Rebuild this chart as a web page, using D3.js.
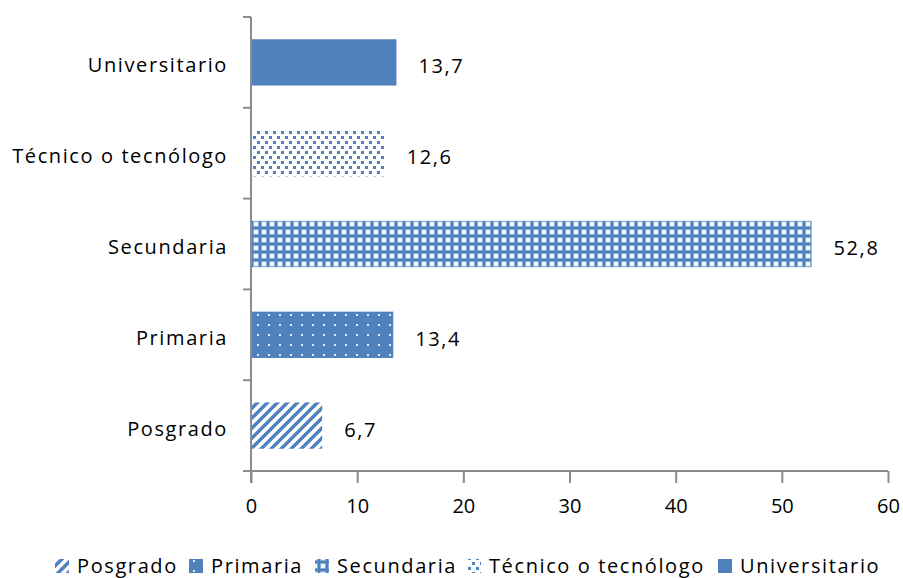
<!DOCTYPE html>
<html>
<head>
<meta charset="utf-8">
<script src="https://d3js.org/d3.v7.min.js"></script>
<style>
  html, body { margin: 0; padding: 0; background: #fff; }
  svg { display: block; font-family: "Open Sans", sans-serif; }
</style>
</head>
<body>
<script>
// data, top to bottom as drawn
const categories = ['Universitario', 'Técnico o tecnólogo', 'Secundaria', 'Primaria', 'Posgrado'];
const values = [13.7, 12.6, 52.8, 13.4, 6.7];
const xTicks = [0, 10, 20, 30, 40, 50, 60];
const legendOrder = ['Posgrado', 'Primaria', 'Secundaria', 'Técnico o tecnólogo', 'Universitario'];

const width = 903, height = 578;
const margin = {top: 17, right: 15, bottom: 107, left: 251};
const blue = '#4f81bd';
const axisColor = '#8c8c8c';
const fontSize = 20, spacing = '1.6px';

const svg = d3.select('body').append('svg').attr('width', width).attr('height', height);
const defs = svg.append('defs');

// fill patterns, one per category
function addPattern(id, w, h, draw) {
    let p = defs.append('pattern').attr('id', id).attr('patternUnits', 'userSpaceOnUse')
        .attr('width', w).attr('height', h);
    draw(p);
}
addPattern('p-posgrado', 10, 10, p => {
    p.append('rect').attr('width', 10).attr('height', 10).attr('fill', '#fff');
    p.append('path').attr('d', 'M-2,12 L12,-2 M-7,7 L7,-7 M3,17 L17,3')
        .attr('stroke', blue).attr('stroke-width', 3.4);
});
addPattern('p-primaria', 11, 10, p => {
    p.append('rect').attr('width', 11).attr('height', 10).attr('fill', blue);
    p.append('rect').attr('x', 4).attr('y', 4).attr('width', 2).attr('height', 2).attr('fill', '#e8eef7');
});
addPattern('p-secundaria', 8, 8, p => {
    p.append('rect').attr('width', 8).attr('height', 8).attr('fill', '#8aabd5');
    p.append('path').attr('d', 'M3,0h2v8h-2z M0,3h8v2h-8z').attr('fill', blue);
    p.append('path').attr('d', 'M0,0h2v2h-2z M6,6h2v2h-2z M6,0h2v2h-2z M0,6h2v2h-2z').attr('fill', '#f2f6fb');
});
addPattern('p-tecnico', 8, 10, p => {
    p.append('rect').attr('width', 8).attr('height', 10).attr('fill', '#fff');
    p.append('rect').attr('x', 1).attr('y', 1).attr('width', 3).attr('height', 3).attr('fill', blue);
    p.append('rect').attr('x', 5).attr('y', 6).attr('width', 3).attr('height', 3).attr('fill', blue);
});
const fills = {
    'Posgrado': 'url(#p-posgrado)',
    'Primaria': 'url(#p-primaria)',
    'Secundaria': 'url(#p-secundaria)',
    'Técnico o tecnólogo': 'url(#p-tecnico)',
    'Universitario': blue
};

const x = d3.scaleLinear().domain([0, 60]).range([margin.left, width - margin.right]);
const y = d3.scaleBand().domain(categories).range([margin.top, height - margin.bottom]).paddingInner(0.49).paddingOuter(0.245);

// bars
svg.selectAll('rect.bar').data(categories).enter().append('rect')
    .attr('class', 'bar')
    .attr('x', x(0))
    .attr('y', d => y(d))
    .attr('width', (d, i) => x(values[i]) - x(0))
    .attr('height', y.bandwidth())
    .attr('fill', d => fills[d]);

// value labels
svg.selectAll('text.val').data(categories).enter().append('text')
    .attr('class', 'val')
    .attr('x', (d, i) => x(values[i]) + 22)
    .attr('y', d => y(d) + y.bandwidth() / 2 + 4)
    .attr('dy', '0.35em')
    .attr('font-size', fontSize)
    .attr('letter-spacing', spacing)
    .attr('fill', '#000')
    .text((d, i) => String(values[i]).replace('.', ','));

// x axis
const xAxis = svg.append('g').attr('transform', 'translate(0,' + (height - margin.bottom) + ')')
    .call(d3.axisBottom(x).tickValues(xTicks).tickSize(12).tickPadding(16));
xAxis.select('.domain').attr('stroke', axisColor).attr('stroke-width', 2).attr('d', 'M' + (x(0) - 8) + ',0H' + x(60));
xAxis.selectAll('.tick line').attr('stroke', axisColor).attr('stroke-width', 2);
xAxis.selectAll('.tick text').attr('font-size', fontSize).attr('fill', '#000').attr('font-family', '"Open Sans", sans-serif');

// y axis with ticks on category boundaries
const bounds = d3.range(categories.length + 1).map(i => margin.top + i * (height - margin.bottom - margin.top) / categories.length);
const yAxis = svg.append('g');
yAxis.append('line').attr('x1', x(0)).attr('x2', x(0)).attr('y1', margin.top).attr('y2', height - margin.bottom + 12)
    .attr('stroke', axisColor).attr('stroke-width', 2);
yAxis.selectAll('line.tk').data(bounds.slice(0, -1)).enter().append('line').attr('class', 'tk')
    .attr('x1', x(0) - 8).attr('x2', x(0)).attr('y1', d => d).attr('y2', d => d)
    .attr('stroke', axisColor).attr('stroke-width', 2);
yAxis.selectAll('text').data(categories).enter().append('text')
    .attr('x', x(0) - 23)
    .attr('y', d => y(d) + y.bandwidth() / 2 + 3)
    .attr('dy', '0.35em')
    .attr('text-anchor', 'end')
    .attr('font-size', fontSize)
    .attr('letter-spacing', spacing)
    .attr('fill', '#000')
    .text(d => d);

// legend
const legendX = [55, 189, 315, 467, 718];
const legend = svg.append('g').attr('transform', 'translate(0,566)');
const item = legend.selectAll('g').data(legendOrder).enter().append('g')
    .attr('transform', (d, i) => 'translate(' + legendX[i] + ',0)');
item.append('rect').attr('x', 0).attr('y', -7).attr('width', 14).attr('height', 14).attr('fill', d => fills[d]);
item.append('text').attr('x', 22).attr('dy', '0.35em').attr('font-size', fontSize)
    .attr('letter-spacing', spacing).attr('fill', '#000').text(d => d);
</script>
</body>
</html>
